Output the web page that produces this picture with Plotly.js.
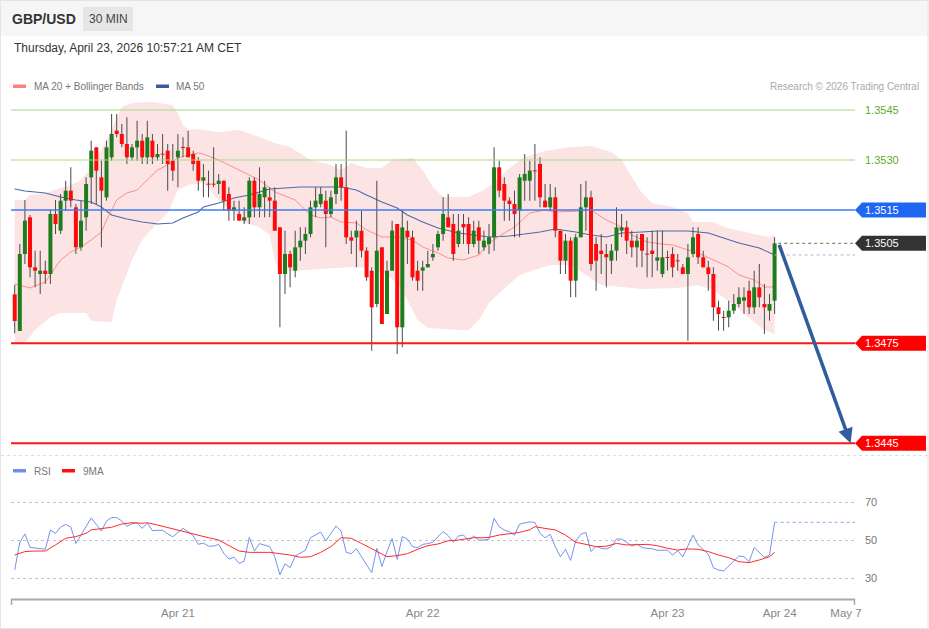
<!DOCTYPE html>
<html><head><meta charset="utf-8">
<script src="https://cdn.plot.ly/plotly-3.0.1.min.js"></script>
<style>html,body{margin:0;padding:0;background:#fff;}#chart{width:929px;height:629px;}</style>
</head><body><div id="chart"></div>
<script>
// ---------- DATA ----------
const candleOpen = [
1.34897,1.34787,1.35018,1.35128,1.34978,1.34958,1.34968,1.34958,1.35138,1.35088,
1.35178,1.35208,1.35158,1.35038,1.35128,1.35248,1.35338,1.35248,1.35188,1.35308,
1.35388,1.35378,1.35348,1.35308,1.35338,1.35358,1.35308,1.35358,1.35308,1.35318,
1.35328,1.35298,1.35308,1.35338,1.35338,1.35318,1.35298,1.35238,1.35228,1.35228,
1.35228,1.35238,1.35198,1.35148,1.35138,1.35118,1.35128,1.35238,1.35158,1.35188,
1.35188,1.35178,1.35098,1.34958,1.35018,1.34968,1.35038,1.35058,1.35078,1.35158,
1.35168,1.35178,1.35138,1.35198,1.35248,1.35218,1.35068,1.35068,1.35088,1.35028,
1.34968,1.34868,1.35038,1.34838,1.34968,1.35108,1.34798,1.35088,1.35068,1.34968,
1.34968,1.34978,1.35008,1.35038,1.35078,1.35128,1.35108,1.35048,1.35108,1.35108,
1.35048,1.35098,1.35038,1.35048,1.35068,1.35278,1.35228,1.35178,1.35168,1.35148,
1.35238,1.35238,1.35268,1.35288,1.35178,1.35158,1.35188,1.35088,1.34998,1.35058,
1.34938,1.35068,1.35158,1.35188,1.35048,1.35028,1.35018,1.34998,1.35028,1.35088,
1.35098,1.35058,1.35038,1.35078,1.35018,1.35028,1.34998,1.34958,1.35008,1.35018,
1.34998,1.34978,1.34958,1.35018,1.35078,1.35008,1.34978,1.34958,1.34858,1.34828,
1.34828,1.34848,1.34868,1.34878,1.34908,1.34858,1.34918,1.34868,1.34848,1.34878];
const candleHigh = [
1.34925,1.35048,1.35180,1.35135,1.35028,1.35028,1.34998,1.35150,1.35180,1.35198,
1.35238,1.35278,1.35168,1.35178,1.35248,1.35358,1.35338,1.35298,1.35358,1.35438,
1.35438,1.35408,1.35428,1.35348,1.35418,1.35378,1.35418,1.35378,1.35348,1.35378,
1.35348,1.35348,1.35378,1.35368,1.35388,1.35328,1.35308,1.35288,1.35268,1.35338,
1.35258,1.35238,1.35218,1.35178,1.35178,1.35158,1.35248,1.35248,1.35278,1.35238,
1.35218,1.35218,1.35098,1.35088,1.35028,1.35088,1.35098,1.35098,1.35178,1.35218,
1.35218,1.35208,1.35208,1.35288,1.35288,1.35388,1.35088,1.35118,1.35148,1.35038,
1.34978,1.35238,1.35038,1.34998,1.35118,1.35108,1.35148,1.35118,1.35088,1.34998,
1.34998,1.35028,1.35048,1.35088,1.35188,1.35198,1.35138,1.35138,1.35138,1.35128,
1.35118,1.35118,1.35088,1.35108,1.35338,1.35298,1.35248,1.35188,1.35208,1.35258,
1.35318,1.35298,1.35348,1.35308,1.35228,1.35228,1.35218,1.35088,1.35078,1.35068,
1.35078,1.35228,1.35238,1.35208,1.35068,1.35078,1.35048,1.35048,1.35158,1.35138,
1.35118,1.35088,1.35078,1.35078,1.35068,1.35088,1.35088,1.35088,1.35028,1.35038,
1.35018,1.34988,1.35048,1.35098,1.35098,1.35028,1.34998,1.34978,1.34878,1.34848,
1.34878,1.34898,1.34918,1.34918,1.34938,1.34968,1.34988,1.34928,1.34898,1.35068];
const candleLow = [
1.34780,1.34787,1.34988,1.34948,1.34918,1.34898,1.34928,1.34928,1.35078,1.35078,
1.35148,1.35158,1.35018,1.35028,1.35088,1.35168,1.35168,1.35038,1.35178,1.35298,
1.35368,1.35338,1.35288,1.35298,1.35298,1.35288,1.35288,1.35288,1.35298,1.35288,
1.35208,1.35238,1.35218,1.35308,1.35308,1.35268,1.35208,1.35188,1.35188,1.35218,
1.35198,1.35148,1.35118,1.35118,1.35118,1.35108,1.35108,1.35128,1.35128,1.35128,
1.35128,1.35088,1.34798,1.34898,1.34918,1.34948,1.34998,1.35018,1.35068,1.35128,
1.35158,1.35038,1.35128,1.35168,1.35178,1.35048,1.35018,1.34978,1.35008,1.34938,
1.34728,1.34858,1.34808,1.34838,1.34968,1.34718,1.34738,1.34988,1.34938,1.34908,
1.34908,1.34978,1.34998,1.35028,1.35058,1.35098,1.34998,1.35038,1.35048,1.35018,
1.35038,1.35018,1.35028,1.35018,1.35028,1.35188,1.35118,1.35118,1.35068,1.35068,
1.35178,1.35178,1.35178,1.35158,1.35158,1.35148,1.35068,1.34958,1.34958,1.34888,
1.34888,1.35068,1.35088,1.34968,1.34908,1.34958,1.34918,1.34958,1.34998,1.35068,
1.35018,1.35008,1.34978,1.34978,1.34948,1.34948,1.34968,1.34948,1.34968,1.34948,
1.34968,1.34958,1.34758,1.35008,1.34988,1.34978,1.34908,1.34818,1.34788,1.34788,
1.34798,1.34838,1.34858,1.34838,1.34838,1.34838,1.34858,1.34778,1.34818,1.34838];
const candleClose = [
1.34817,1.35018,1.35118,1.34978,1.34968,1.34968,1.34958,1.35138,1.35108,1.35178,
1.35208,1.35178,1.35038,1.35118,1.35228,1.35328,1.35268,1.35208,1.35338,1.35378,
1.35378,1.35348,1.35308,1.35338,1.35358,1.35308,1.35368,1.35308,1.35318,1.35316,
1.35288,1.35268,1.35328,1.35336,1.35308,1.35288,1.35238,1.35248,1.35226,1.35226,
1.35238,1.35178,1.35148,1.35158,1.35118,1.35128,1.35238,1.35158,1.35198,1.35218,
1.35178,1.35088,1.34958,1.35018,1.34978,1.35038,1.35058,1.35078,1.35158,1.35178,
1.35198,1.35138,1.35188,1.35248,1.35218,1.35068,1.35058,1.35088,1.35028,1.34948,
1.34858,1.35028,1.34808,1.34968,1.35088,1.34798,1.35098,1.35068,1.34948,1.34938,
1.34978,1.34988,1.35018,1.35078,1.35138,1.35098,1.35018,1.35088,1.35098,1.35048,
1.35088,1.35058,1.35058,1.35068,1.35278,1.35208,1.35178,1.35168,1.35138,1.35248,
1.35258,1.35268,1.35266,1.35188,1.35158,1.35188,1.35088,1.34998,1.35058,1.34938,
1.35068,1.35158,1.35188,1.34988,1.34998,1.35018,1.35008,1.35028,1.35098,1.35098,
1.35058,1.35038,1.35058,1.35028,1.35016,1.35018,1.35008,1.35008,1.35006,1.34978,
1.34996,1.34958,1.35008,1.35068,1.35008,1.34978,1.34958,1.34858,1.34838,1.34826,
1.34848,1.34868,1.34888,1.34888,1.34858,1.34918,1.34888,1.34858,1.34868,1.35050];

const ma20X = [0,3,6,9,11,13,15,17,18,20,22,24,26,28,30,32,34,36,37,40,44,48,51,55,58,60,62,64,67,69,72,75,78,80,83,85,88,91,93,96,98,101,104,106,111,113,116,119,121,124,127,129,132,134,137,140,142,145,147,149];
const ma20Y = [1.34928,1.34916,1.34934,1.35000,1.35024,1.35039,1.35060,1.35084,1.35120,1.35180,1.35201,1.35210,1.35240,1.35270,1.35285,1.35306,1.35315,1.35321,1.35318,1.35300,1.35270,1.35240,1.35204,1.35180,1.35135,1.35126,1.35129,1.35114,1.35111,1.35090,1.35069,1.35069,1.35060,1.35039,1.35021,1.35006,1.35000,1.35015,1.35051,1.35081,1.35099,1.35141,1.35150,1.35144,1.35147,1.35150,1.35120,1.35099,1.35075,1.35054,1.35048,1.35045,1.35030,1.35021,1.35000,1.34979,1.34955,1.34940,1.34919,1.34919];

const ma50X = [0,2,6,9,12,15,17,19,22,25,28,31,33,36,37,40,43,46,50,53,56,64,67,69,72,75,77,80,83,87,90,93,97,100,103,106,110,113,116,119,123,126,132,136,139,142,146,149];
const ma50Y = [1.35213,1.35207,1.35201,1.35189,1.35180,1.35174,1.35159,1.35135,1.35123,1.35114,1.35108,1.35111,1.35126,1.35144,1.35159,1.35171,1.35186,1.35195,1.35213,1.35216,1.35219,1.35219,1.35210,1.35195,1.35174,1.35156,1.35135,1.35114,1.35096,1.35081,1.35075,1.35069,1.35072,1.35078,1.35084,1.35093,1.35084,1.35075,1.35069,1.35081,1.35084,1.35087,1.35087,1.35081,1.35066,1.35051,1.35036,1.35015];

const bbUpperX = [0,2,3,6,9,11,13,15,17,19,20,21,23,27,31,32,33,34,36,40,44,48,51,54,58,62,64,66,69,72,74,78,80,82,84,89,92,95,97,100,104,109,113,117,119,121,123,125,129,132,133,137,139,144,148,149];
const bbUpperY = [1.35180,1.35180,1.35195,1.35201,1.35216,1.35225,1.35240,1.35279,1.35330,1.35390,1.35429,1.35459,1.35471,1.35474,1.35465,1.35440,1.35405,1.35390,1.35393,1.35384,1.35390,1.35369,1.35351,1.35339,1.35300,1.35285,1.35270,1.35291,1.35276,1.35276,1.35300,1.35306,1.35270,1.35219,1.35189,1.35189,1.35210,1.35246,1.35276,1.35309,1.35327,1.35339,1.35342,1.35324,1.35300,1.35249,1.35201,1.35171,1.35159,1.35141,1.35114,1.35114,1.35099,1.35081,1.35069,1.35075];
const bbLowerX = [0,2,4,7,9,14,15,19,20,21,23,25,28,30,32,34,37,40,43,45,48,50,51,52,57,66,70,73,75,77,79,81,87,89,91,93,95,99,105,109,112,115,123,130,134,137,141,144,147,149];
const bbLowerY = [1.34751,1.34751,1.34790,1.34829,1.34841,1.34841,1.34817,1.34814,1.34880,1.34919,1.35000,1.35060,1.35111,1.35141,1.35210,1.35225,1.35231,1.35180,1.35141,1.35111,1.35099,1.35075,1.35000,1.34964,1.34970,1.34979,1.34976,1.34955,1.34930,1.34880,1.34820,1.34796,1.34790,1.34790,1.34820,1.34871,1.34901,1.34955,1.34985,1.34985,1.34955,1.34925,1.34913,1.34916,1.34925,1.34910,1.34865,1.34826,1.34790,1.34778];

const rsiValues = [
34.2,48.8,53.2,46.1,45.8,45.6,45.1,55.3,53.5,56.8,
58.2,56.8,48.2,52.6,57.5,61.6,58.2,54.7,60.0,61.8,
61.8,60.0,57.2,58.6,59.1,56.1,58.9,54.9,55.1,55.1,
53.3,51.6,54.0,56.1,54.4,52.3,47.7,48.4,46.8,46.8,
47.7,43.0,40.0,40.9,37.7,38.9,51.4,44.2,48.1,47.4,
46.5,41.2,31.6,37.5,35.4,41.6,43.0,44.6,51.2,52.6,
54.2,49.5,53.5,57.4,54.7,43.5,42.8,45.4,41.2,36.8,
32.8,45.6,36.1,43.9,50.7,39.8,51.8,50.5,46.5,46.0,
47.7,48.1,48.8,51.8,54.4,52.3,48.8,52.1,52.6,49.6,
52.1,50.0,50.0,50.5,61.4,57.0,55.3,54.4,52.6,58.4,
59.1,59.5,59.3,53.5,51.2,53.0,46.5,41.2,45.1,39.3,
49.5,53.0,54.0,43.9,46.7,45.6,45.3,46.5,50.5,50.5,
48.8,46.8,47.9,46.0,45.6,45.4,44.6,44.6,44.6,42.1,
44.4,41.1,46.5,52.6,47.4,44.7,42.5,35.4,34.2,33.7,
36.3,38.9,41.6,41.2,38.6,46.0,43.5,40.9,42.1,59.3];
const rsiMa9X = [0,2,4,6,8,10,12,14,15,17,19,21,23,25,26,28,30,32,34,36,38,40,42,44,46,48,50,52,54,56,58,60,62,64,66,68,70,72,73,75,77,79,81,83,85,87,88,90,92,93,95,97,99,101,102,104,106,108,110,112,114,116,118,120,122,124,126,128,130,132,134,136,138,140,142,144,146,148,149];
const rsiMa9Y = [42.1,43.9,44.2,44.2,47.4,50.9,51.8,53.5,55.3,56.1,56.7,58.4,59.1,58.8,59.1,57.9,56.5,55.3,53.9,52.6,51.2,50.0,47.0,44.2,43.5,43.5,43.5,42.8,42.1,40.9,41.2,43.5,46.5,51.2,50.9,48.2,45.3,42.5,41.2,41.8,42.8,45.1,47.0,47.9,49.6,50.0,50.5,51.2,51.2,51.4,52.6,53.2,54.0,55.4,57.0,56.1,55.3,52.6,48.8,47.7,46.5,46.7,48.2,47.4,47.7,47.7,47.0,45.6,44.7,45.3,45.1,43.9,42.1,40.7,38.6,38.1,39.5,41.2,43.5];
const rsiTicks = [30, 50, 70];

const levelPrices = [1.3545, 1.3530, 1.3515, 1.3505, 1.3475, 1.3445];
const levelKinds  = ['green','green','blue','dark','red','red'];

const tickIndex = [32, 80, 128, 150, 163];
const tickText  = ['Apr 21','Apr 22','Apr 23','Apr 24','May 7'];

const projectionX = [149.8, 163.9];            // arrow: from last candle to target
const projectionY = [candleClose[candleClose.length-1], 1.3445];

// ---------- LAYOUT HELPERS ----------
const F = 'Liberation Sans, Arial, sans-serif';
const PL = 11, PR = 855, PT = 95, PB = 600;
const px = x => (x - PL) / (PR - PL);
const py = y => (PB - y) / (PB - PT);
const C0 = 14.7, DX = 5.1;                     // first candle pixel, candle spacing
const xMin = (PL - C0) / DX, xMax = (PR - C0) / DX;
const PPU = 33333.33;                          // pixels per price unit
const yMax = 1.3545 + (110 - 95) / PPU, yMin = 1.3545 - (455 - 110) / PPU;
const RPU = 1.9;                               // pixels per RSI point
const rMin = 30 - (600 - 578) / RPU, rMax = 70 + (502 - 480) / RPU;

const idx = candleOpen.map((_, i) => i);
const lastI = idx.length - 1;

// wicks (thin bars) and bodies (wide bars); both live in the bar layer
const wBase = [], wH = [];
const bBase = [], bH = [], bCol = [];
idx.forEach(i => {
  wBase.push(candleLow[i]); wH.push(candleHigh[i] - candleLow[i]);
  const o = candleOpen[i], c = candleClose[i];
  bBase.push(Math.min(o, c));
  bH.push(Math.max(Math.abs(c - o), 0.00003));
  bCol.push(c > o ? '#1d7d1d' : (c < o ? '#ff0a0a' : '#333'));
});

const pathOf = (xs, ys) => xs.map((x, i) => (i ? 'L' : 'M') + x + ',' + ys[i]).join(' ');

const traces = [
  { x: idx, y: wH, base: wBase, type: 'bar', width: 0.2, marker: { color: '#4d4d4d', line: { width: 0 } }, hoverinfo: 'skip', yaxis: 'y' },
  { x: idx, y: bH, base: bBase, type: 'bar', width: 0.78, marker: { color: bCol, line: { width: 0 } }, hoverinfo: 'skip', yaxis: 'y' },
  { x: [lastI + 0.7, xMax], y: [candleClose[lastI], candleClose[lastI]], type: 'scatter', mode: 'lines',
    line: { color: '#888', width: 1.2, dash: 'dot' }, hoverinfo: 'skip', yaxis: 'y' },
  { x: [lastI, xMax], y: [ma50Y[ma50Y.length-1], ma50Y[ma50Y.length-1]], type: 'scatter', mode: 'lines',
    line: { color: '#a8b9dc', width: 1.2, dash: 'dot' }, hoverinfo: 'skip', yaxis: 'y' },
  { x: idx, y: rsiValues, type: 'scatter', mode: 'lines', line: { color: '#7394ee', width: 1 }, hoverinfo: 'skip', yaxis: 'y2' },
  { x: rsiMa9X, y: rsiMa9Y, type: 'scatter', mode: 'lines', line: { color: '#ff2a2a', width: 1 }, hoverinfo: 'skip', yaxis: 'y2' },
  { x: [lastI, xMax], y: [rsiValues[lastI], rsiValues[lastI]], type: 'scatter', mode: 'lines',
    line: { color: '#8aa4f0', width: 1, dash: 'dot' }, hoverinfo: 'skip', yaxis: 'y2' }
];

const kindStyle = {
  green: { line: '#a3d984', w: 1, text: '#5cae26', tag: null },
  blue:  { line: '#3b7cf4', w: 1.5, text: '#fff', tag: '#1f66f2' },
  dark:  { line: null, w: 0, text: '#fff', tag: '#333333' },
  red:   { line: '#ff1414', w: 2, text: '#fff', tag: '#ff0000' }
};

const shapes = [
  // header band
  { type: 'rect', xref: 'paper', yref: 'paper', x0: px(0), x1: px(929), y0: py(36), y1: py(0), fillcolor: '#f6f6f6', line: { width: 0 }, layer: 'below' },
  { type: 'rect', xref: 'paper', yref: 'paper', x0: px(83), x1: px(133), y0: py(31), y1: py(7), fillcolor: '#e6e6e6', line: { width: 0 }, layer: 'below' },
  // outer border
  { type: 'rect', xref: 'paper', yref: 'paper', x0: px(0.5), x1: px(928), y0: py(628.5), y1: py(0.5), line: { color: '#e4e4e4', width: 1 }, layer: 'below' },
  // Bollinger band + moving averages (below the candles)
  { type: 'path', xref: 'x', yref: 'y', layer: 'below', fillcolor: '#fde4e4', line: { width: 0 },
    path: pathOf(bbUpperX.concat(bbLowerX.slice().reverse()), bbUpperY.concat(bbLowerY.slice().reverse())) + ' Z' },
  { type: 'path', xref: 'x', yref: 'y', layer: 'below', fillcolor: 'rgba(0,0,0,0)', line: { color: '#4a6aa8', width: 1.1 }, path: pathOf(ma50X, ma50Y) },
  { type: 'path', xref: 'x', yref: 'y', layer: 'below', fillcolor: 'rgba(0,0,0,0)', line: { color: '#ff8c8c', width: 1 }, path: pathOf(ma20X, ma20Y) },
  // panel separator
  { type: 'line', xref: 'paper', yref: 'paper', x0: px(1), x1: px(928), y0: py(455.5), y1: py(455.5), line: { color: '#dcdcdc', width: 1, dash: 'dot' } },
  // legend swatches
  { type: 'rect', xref: 'paper', yref: 'paper', x0: px(13), x1: px(26), y0: py(88), y1: py(84.5), fillcolor: '#ff7f7f', line: { width: 0 } },
  { type: 'rect', xref: 'paper', yref: 'paper', x0: px(156), x1: px(169), y0: py(88), y1: py(84.5), fillcolor: '#3a5a9a', line: { width: 0 } },
  { type: 'rect', xref: 'paper', yref: 'paper', x0: px(13), x1: px(26), y0: py(472.5), y1: py(469), fillcolor: '#6e8ff0', line: { width: 0 } },
  { type: 'rect', xref: 'paper', yref: 'paper', x0: px(62), x1: px(75), y0: py(472.5), y1: py(469), fillcolor: '#ff1010', line: { width: 0 } },
  // bottom axis line + end ticks
  { type: 'line', xref: 'paper', yref: 'paper', x0: 0, x1: 1, y0: py(599.5), y1: py(599.5), line: { color: '#aaaaaa', width: 2 } },
  { type: 'line', xref: 'paper', yref: 'paper', x0: px(11.5), x1: px(11.5), y0: py(599), y1: py(605), line: { color: '#aaaaaa', width: 1.5 } },
  { type: 'line', xref: 'paper', yref: 'paper', x0: px(854.5), x1: px(854.5), y0: py(599), y1: py(605), line: { color: '#aaaaaa', width: 1.5 } }
];

const annotations = [];
function note(text, x, y, o) {
  annotations.push(Object.assign({ text: text, x: px(x), y: py(y), xref: 'paper', yref: 'paper', showarrow: false,
    xanchor: 'left', yanchor: 'middle', font: { family: F, size: 11, color: '#777' } }, o || {}));
}
note('<b>GBP/USD</b>', 10, 19, { font: { family: F, size: 14, color: '#333' } });
note('30 MIN', 108, 19, { xanchor: 'center', font: { family: F, size: 12, color: '#444' } });
note('Thursday, April 23, 2026 10:57:21 AM CET', 12, 48, { font: { family: F, size: 12, color: '#333' } });
note('MA 20 + Bollinger Bands', 32, 86, { font: { family: F, size: 10, color: '#777' } });
note('MA 50', 174, 86, { font: { family: F, size: 10, color: '#777' } });
note('Research © 2026 Trading Central', 921, 86, { xanchor: 'right', font: { family: F, size: 10, color: '#aaa' } });
note('RSI', 32, 471, { font: { family: F, size: 10, color: '#777' } });
note('9MA', 81, 471, { font: { family: F, size: 10, color: '#777' } });

// levels: lines, tags, labels
const half = 7.5 / PPU;
levelPrices.forEach((p, k) => {
  const s = kindStyle[levelKinds[k]];
  if (s.line) shapes.push({ type: 'line', xref: 'paper', yref: 'y', x0: 0, x1: 1, y0: p, y1: p, line: { color: s.line, width: s.w }, layer: 'above' });
  if (s.tag) {
    const a = px(855), b = px(862), c = px(926);
    shapes.push({ type: 'path', xref: 'paper', yref: 'y',
      path: `M ${a},${p} L ${b},${p + half} L ${c},${p + half} L ${c},${p - half} L ${b},${p - half} Z`,
      fillcolor: s.tag, line: { width: 0 }, layer: 'above' });
  }
  annotations.push({ text: p.toFixed(4), x: px(863), y: p, xref: 'paper', yref: 'y', showarrow: false,
    xanchor: 'left', yanchor: 'middle', font: { family: F, size: 11, color: s.text } });
});
rsiTicks.forEach(v => {
  annotations.push({ text: String(v), x: px(863), y: v, xref: 'paper', yref: 'y2', showarrow: false,
    xanchor: 'left', yanchor: 'middle', font: { family: F, size: 11, color: '#777' } });
});
// projection arrow
annotations.push({ x: projectionX[1], y: projectionY[1], ax: projectionX[0], ay: projectionY[0],
  xref: 'x', yref: 'y', axref: 'x', ayref: 'y', text: '', showarrow: true,
  arrowhead: 2, arrowsize: 0.85, arrowwidth: 3.5, arrowcolor: '#2f5d9e' });

const layout = {
  width: 929, height: 629, margin: { l: PL, r: 929 - PR, t: PT, b: 629 - PB, pad: 0 },
  paper_bgcolor: '#ffffff', plot_bgcolor: 'rgba(0,0,0,0)', showlegend: false, barmode: 'overlay',
  font: { family: F },
  xaxis: { range: [xMin, xMax], anchor: 'y2', showgrid: false, zeroline: false, showline: false, ticks: '',
    tickmode: 'array', tickvals: tickIndex, ticktext: tickText, tickfont: { family: F, size: 11.5, color: '#888' },
    ticklabelstandoff: 4, fixedrange: true },
  yaxis: { domain: [py(455), 1], range: [yMin, yMax], showgrid: false, zeroline: false, showticklabels: false, ticks: '', showline: false, fixedrange: true },
  yaxis2: { domain: [0, py(480)], range: [rMin, rMax], showgrid: true, gridcolor: '#c4c4c4', griddash: 'dot', gridwidth: 1,
    tickmode: 'array', tickvals: rsiTicks, showticklabels: false, ticks: '', zeroline: false, showline: false, fixedrange: true },
  shapes: shapes, annotations: annotations
};

Plotly.newPlot('chart', traces, layout, { staticPlot: true, displayModeBar: false });
</script></body></html>
